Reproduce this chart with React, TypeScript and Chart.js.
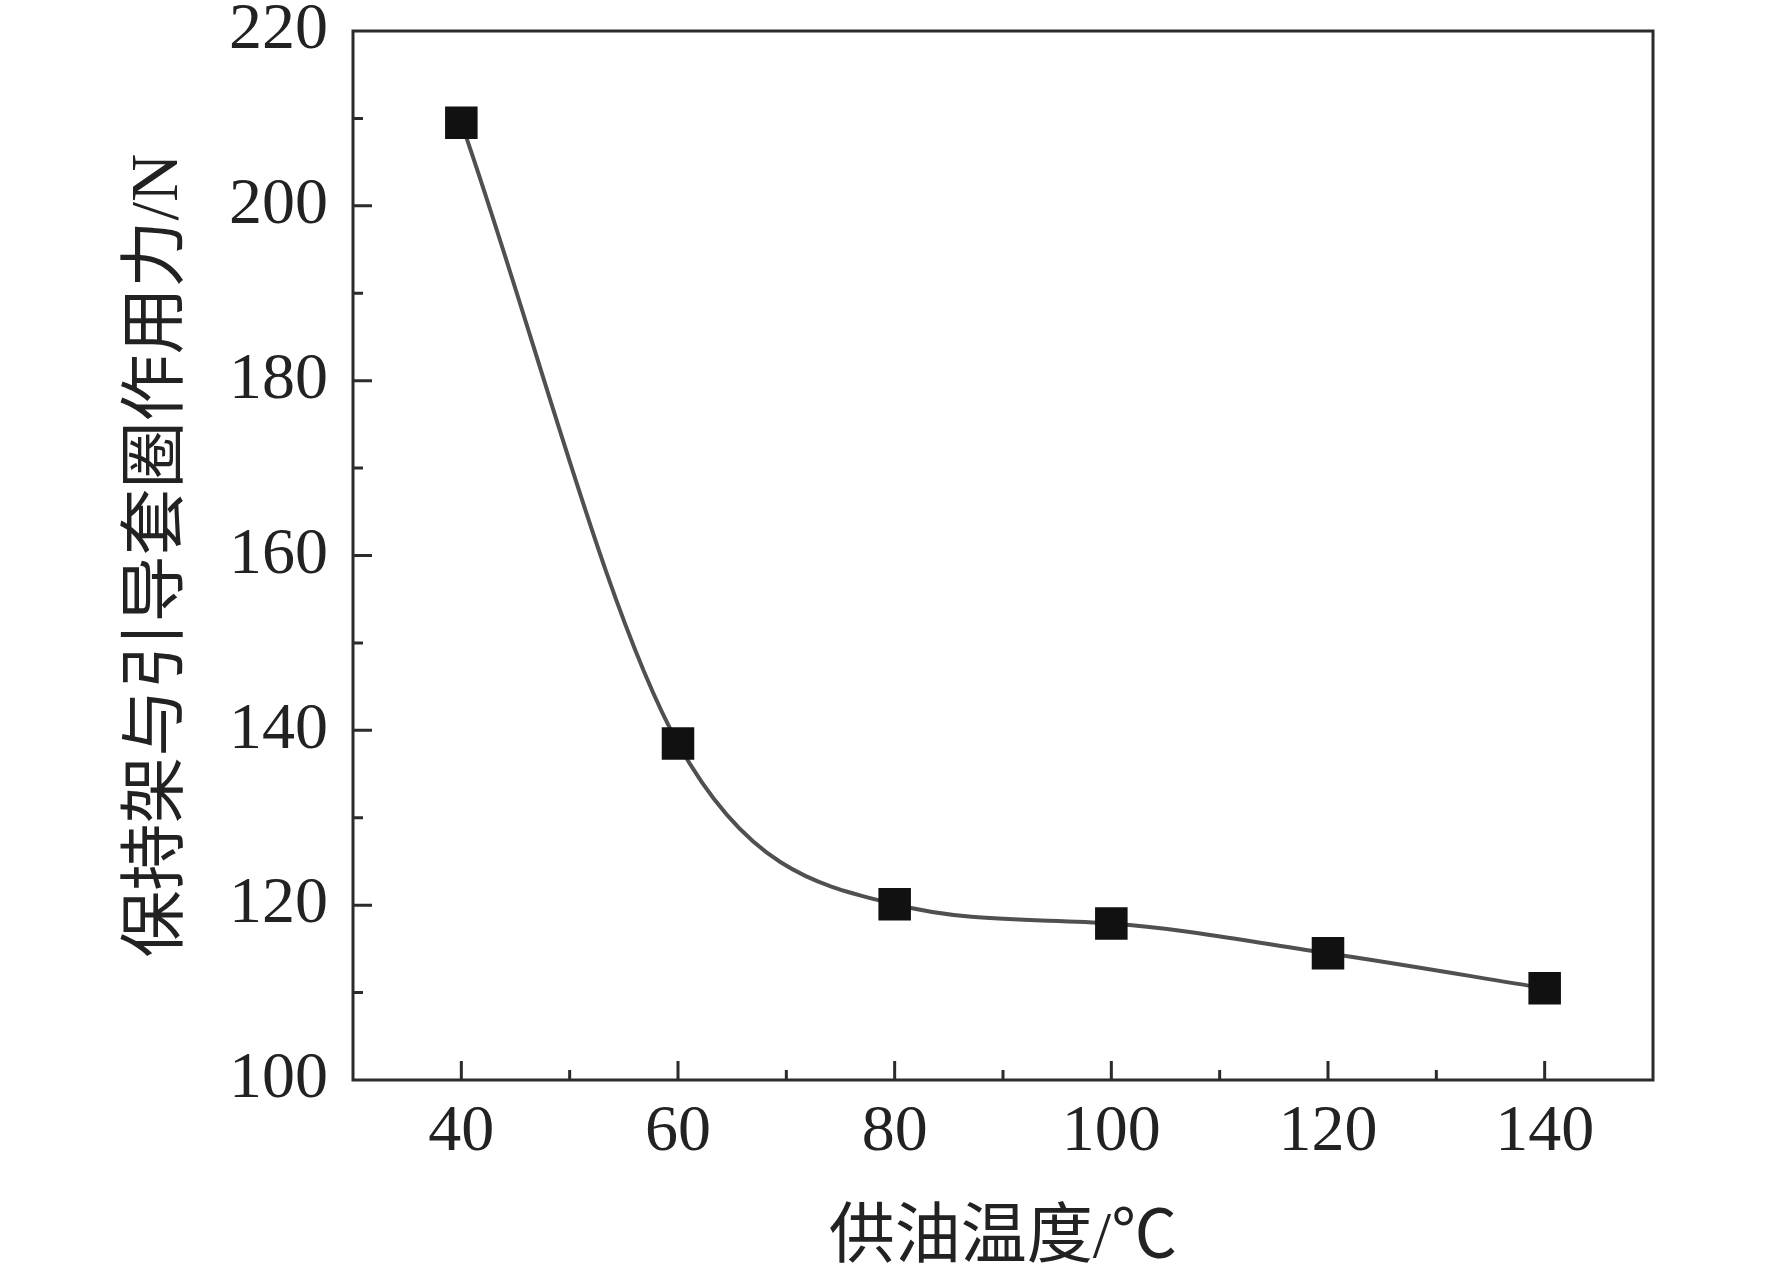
import { useEffect, useRef } from "react"
import { Chart, registerables } from "chart.js"

Chart.register(...registerables)

// data
const temperatures = [40, 60, 80, 100, 120, 140]
const forces = [209.5, 138.5, 120.1, 117.9, 114.5, 110.5]
const xTickValues = [40, 60, 80, 100, 120, 140]
const yTickValues = [100, 120, 140, 160, 180, 200, 220]

const FRAME = "#2b2b2b"
const SERIF = "'Liberation Serif', 'Noto Sans CJK SC', serif"

// frame + inward major/minor ticks, drawn through the scales
const framePlugin = {
  id: "frame",
  afterDraw(chart: any) {
    const { ctx, chartArea } = chart
    const xs = chart.scales.x
    const ys = chart.scales.y
    ctx.save()
    ctx.strokeStyle = FRAME
    ctx.lineWidth = 3
    ctx.strokeRect(chartArea.left, chartArea.top, chartArea.right - chartArea.left, chartArea.bottom - chartArea.top)
    ctx.beginPath()
    for (let v = xs.min + 10; v < xs.max; v += 10) {
      const len = xTickValues.includes(v) ? 19 : 10
      const px = xs.getPixelForValue(v)
      ctx.moveTo(px, chartArea.bottom)
      ctx.lineTo(px, chartArea.bottom - len)
    }
    for (let v = ys.min + 10; v < ys.max; v += 10) {
      const len = yTickValues.includes(v) ? 19 : 10
      const py = ys.getPixelForValue(v)
      ctx.moveTo(chartArea.left, py)
      ctx.lineTo(chartArea.left + len, py)
    }
    ctx.stroke()
    ctx.restore()
  },
}

export function ForceChart() {
  const chartRef = useRef<HTMLCanvasElement>(null)
  const chartInstance = useRef<Chart | null>(null)

  useEffect(() => {
    if (!chartRef.current) return
    if (chartInstance.current) chartInstance.current.destroy()
    const ctx = chartRef.current.getContext("2d")
    if (!ctx) return

    chartInstance.current = new Chart(ctx, {
      type: "line",
      data: {
        datasets: [
          {
            data: temperatures.map((t, i) => ({ x: t, y: forces[i] })),
            borderColor: "#505050",
            borderWidth: 4,
            cubicInterpolationMode: "monotone",
            pointStyle: "rect",
            pointRadius: 23,
            pointBackgroundColor: "#111111",
            pointBorderColor: "#111111",
            pointBorderWidth: 0,
            fill: false,
          },
        ],
      },
      options: {
        responsive: false,
        animation: false,
        layout: { padding: { top: 31, right: 119, left: 0, bottom: 0 } },
        plugins: {
          legend: { display: false },
          tooltip: { enabled: false },
        },
        scales: {
          x: {
            type: "linear",
            min: 30,
            max: 150,
            grid: { display: false },
            border: { display: false },
            afterBuildTicks: (scale: any) => {
              scale.ticks = xTickValues.map((v) => ({ value: v }))
            },
            afterFit: (scale: any) => {
              scale.height = 196
              scale.paddingLeft = 0
              scale.paddingRight = 0
            },
            ticks: {
              color: "#222",
              padding: 5,
              font: { family: SERIF, size: 66, lineHeight: 1.2 },
            },
            title: {
              display: true,
              text: "供油温度/℃",
              color: "#222",
              padding: { top: 0, bottom: 0 },
              font: { family: SERIF, size: 66, lineHeight: 1.1 },
            },
          },
          y: {
            min: 100,
            max: 220,
            grid: { display: false },
            border: { display: false },
            afterBuildTicks: (scale: any) => {
              scale.ticks = yTickValues.map((v) => ({ value: v }))
            },
            afterFit: (scale: any) => {
              scale.width = 353
              scale.paddingTop = 0
              scale.paddingBottom = 0
            },
            ticks: {
              color: "#222",
              padding: 17,
              font: { family: SERIF, size: 66, lineHeight: 1 },
            },
            title: {
              display: true,
              text: "保持架与引导套圈作用力/N",
              color: "#222",
              padding: { top: 119, bottom: 0 },
              font: { family: SERIF, size: 67, lineHeight: 1.2 },
            },
          },
        },
      },
      plugins: [framePlugin],
    })

    return () => {
      if (chartInstance.current) {
        chartInstance.current.destroy()
        chartInstance.current = null
      }
    }
  }, [])

  return (
    <div style={{ position: "fixed", left: 0, top: 0, width: 1772, height: 1276, background: "#fff" }}>
      <canvas ref={chartRef} width={1772} height={1276} style={{ display: "block" }}></canvas>
    </div>
  )
}

export default function App() {
  return <ForceChart />
}
